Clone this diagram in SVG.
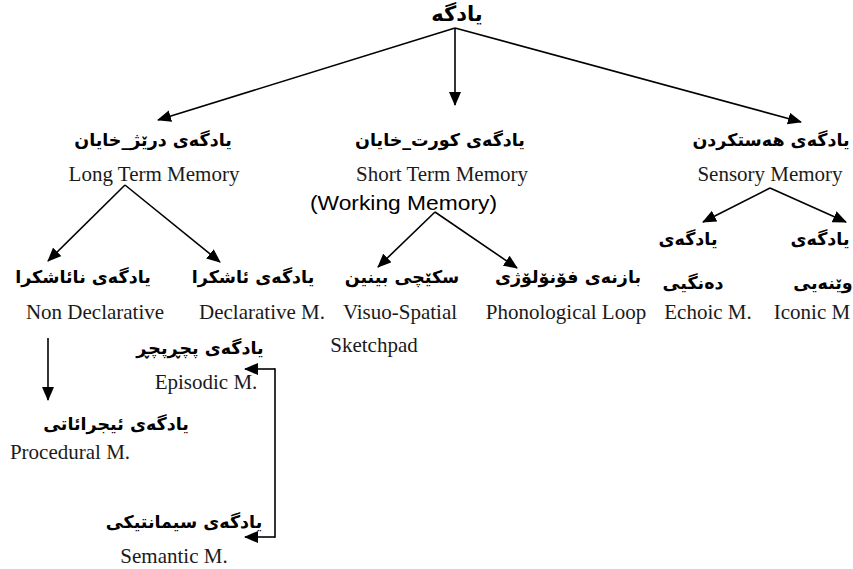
<svg xmlns="http://www.w3.org/2000/svg" width="853" height="569" viewBox="0 0 853 569">
<style>
.ar{font-family:"DejaVu Sans",sans-serif;font-weight:bold;font-size:17.5px;direction:rtl;text-anchor:middle;fill:#000}
.top{font-size:21px}
.en{font-family:"Liberation Serif",serif;font-size:21px;text-anchor:middle;fill:#1a1a1a}
.wm{font-family:"Liberation Sans",sans-serif;font-size:21px;fill:#000}
.ln{stroke:#000;stroke-width:1.6;fill:none}
</style>
<defs>
<marker id="ah" markerUnits="userSpaceOnUse" markerWidth="14" markerHeight="12" viewBox="0 0 14 12" refX="13" refY="6" orient="auto">
<path d="M0,0 L14,6 L0,12 z" fill="#000"/>
</marker>
</defs>
<g id="connectors">
<line class="ln" x1="455" y1="28" x2="158" y2="120" marker-end="url(#ah)"/>
<line class="ln" x1="455" y1="28" x2="455" y2="105" marker-end="url(#ah)"/>
<line class="ln" x1="455" y1="28" x2="801" y2="122" marker-end="url(#ah)"/>
<line class="ln" x1="125" y1="185" x2="48" y2="261" marker-end="url(#ah)"/>
<line class="ln" x1="125" y1="185" x2="220" y2="262" marker-end="url(#ah)"/>
<line class="ln" x1="435" y1="212" x2="378" y2="267" marker-end="url(#ah)"/>
<line class="ln" x1="435" y1="212" x2="517" y2="268" marker-end="url(#ah)"/>
<line class="ln" x1="770" y1="188" x2="703" y2="222" marker-end="url(#ah)"/>
<line class="ln" x1="770" y1="188" x2="846" y2="222" marker-end="url(#ah)"/>
<line class="ln" x1="48" y1="338" x2="48" y2="400" marker-end="url(#ah)"/>
<line class="ln" x1="275" y1="369" x2="245" y2="369" marker-end="url(#ah)"/>
<line class="ln" x1="275" y1="368.2" x2="275" y2="537.8"/>
<line class="ln" x1="275" y1="537" x2="245" y2="537" marker-end="url(#ah)"/>
</g>
<g id="root"><text class="ar top" x="457" y="21">یادگە</text></g>
<g id="long-term">
<text class="ar" x="153" y="146">یادگەی درێژ_خایان</text>
<text class="en" x="154" y="181">Long Term Memory</text>
</g>
<g id="short-term">
<text class="ar" x="440" y="146">یادگەی کورت_خایان</text>
<text class="en" x="442" y="181">Short Term Memory</text>
<text class="wm" x="310" y="210" textLength="187" lengthAdjust="spacingAndGlyphs">(Working Memory)</text>
</g>
<g id="sensory">
<text class="ar" x="771" y="146">یادگەی هەستکردن</text>
<text class="en" x="770" y="181">Sensory Memory</text>
</g>
<g id="non-declarative">
<text class="ar" x="83" y="283">یادگەی نائاشکرا</text>
<text class="en" x="95" y="319">Non Declarative</text>
</g>
<g id="declarative">
<text class="ar" x="253" y="283">یادگەی ئاشکرا</text>
<text class="en" x="262" y="319">Declarative M.</text>
</g>
<g id="visuo-spatial">
<text class="ar" x="402" y="283">سکێچی بینین</text>
<text class="en" x="400" y="319">Visuo-Spatial</text>
<text class="en" x="374" y="352">Sketchpad</text>
</g>
<g id="phonological">
<text class="ar" x="568" y="283">بازنەی فۆنۆلۆژی</text>
<text class="en" x="566" y="319">Phonological Loop</text>
</g>
<g id="echoic">
<text class="ar" x="688" y="245">یادگەی</text>
<text class="ar" x="693" y="289">دەنگیی</text>
<text class="en" x="708" y="319">Echoic M.</text>
</g>
<g id="iconic">
<text class="ar" x="820" y="245">یادگەی</text>
<text class="ar" x="823" y="289">وێنەیی</text>
<text class="en" x="812" y="319">Iconic M</text>
</g>
<g id="episodic">
<text class="ar" x="200" y="354">یادگەی پچڕپچڕ</text>
<text class="en" x="206" y="389">Episodic M.</text>
</g>
<g id="procedural">
<text class="ar" x="116" y="430">یادگەی ئیجرائاتی</text>
<text class="en" x="70" y="459">Procedural M.</text>
</g>
<g id="semantic">
<text class="ar" x="184" y="528">یادگەی سیمانتیکی</text>
<text class="en" x="174" y="563">Semantic M.</text>
</g>
</svg>
